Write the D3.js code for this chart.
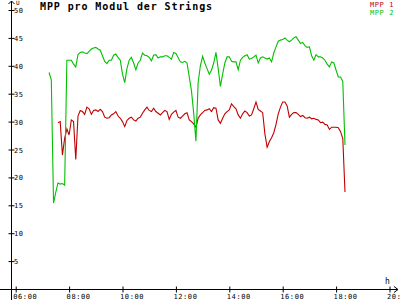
<!DOCTYPE html>
<html>
<head>
<meta charset="utf-8">
<script src="https://cdn.jsdelivr.net/npm/d3@7"></script>
<style>
  body { margin: 0; background: #fff; }
  svg { display: block; }
  text { font-family: "DejaVu Sans Mono", monospace; }
</style>
</head>
<body>
<svg id="chart" width="400" height="300"></svg>
<script>
// 5 minute readings, MPP voltage per module
var times = ["07:15","07:20","07:25","07:30","07:35","07:40","07:45","07:50","07:55","08:00",
  "08:05","08:10","08:15","08:20","08:25","08:30","08:35","08:40","08:45","08:50","08:55",
  "09:00","09:05","09:10","09:15","09:20","09:25","09:30","09:35","09:40","09:45","09:50","09:55",
  "10:00","10:05","10:10","10:15","10:20","10:25","10:30","10:35","10:40","10:45","10:50","10:55",
  "11:00","11:05","11:10","11:15","11:20","11:25","11:30","11:35","11:40","11:45","11:50","11:55",
  "12:00","12:05","12:10","12:15","12:20","12:25","12:30","12:35","12:40","12:45","12:50","12:55",
  "13:00","13:05","13:10","13:15","13:20","13:25","13:30","13:35","13:40","13:45","13:50","13:55",
  "14:00","14:05","14:10","14:15","14:20","14:25","14:30","14:35","14:40","14:45","14:50","14:55",
  "15:00","15:05","15:10","15:15","15:20","15:25","15:30","15:35","15:40","15:45","15:50","15:55",
  "16:00","16:05","16:10","16:15","16:20","16:25","16:30","16:35","16:40","16:45","16:50","16:55",
  "17:00","17:05","17:10","17:15","17:20","17:25","17:30","17:35","17:40","17:45","17:50","17:55",
  "18:00","18:05","18:10","18:15","18:20"]

var mpp1 = [null,null,null,null,29.8,30.0,24.0,27.0,28.7,27.6,
  30.3,30.0,23.2,31.0,32.0,31.8,31.3,32.6,32.3,31.3,32.0,
  32.1,31.8,32.2,31.8,30.8,30.6,30.7,31.2,31.4,31.8,31.0,30.6,
  30.0,29.1,30.2,30.6,30.8,30.3,30.1,30.6,30.8,31.5,32.1,32.6,
  32.0,31.8,32.4,31.8,31.5,31.2,31.6,32.0,31.8,30.4,31.3,31.7,
  32.0,30.8,30.6,31.0,31.4,31.6,30.3,30.0,29.6,29.0,30.6,31.2,
  31.6,32.0,32.1,32.3,31.8,32.5,32.4,30.3,29.7,30.6,31.4,31.8,
  32.1,33.2,32.7,32.3,31.2,30.6,31.4,31.9,31.6,31.0,31.2,32.3,
  33.5,32.2,31.9,31.6,27.8,25.4,26.4,27.1,28.0,29.5,31.4,32.6,
  33.5,33.5,32.8,30.8,31.3,31.6,31.6,31.3,30.9,31.1,30.7,30.6,
  30.8,30.5,30.6,30.4,30.3,29.8,29.9,29.5,29.4,28.6,29.0,29.0,
  29.0,28.9,28.2,27.0,17.4]

var mpp2 = [38.8,37.5,15.4,17.3,19.0,18.8,18.9,18.6,41.0,41.0,
  41.0,40.3,39.8,42.0,42.4,42.5,42.3,42.2,42.6,43.0,43.2,
  43.3,43.0,42.8,41.8,40.8,40.4,41.0,41.0,41.9,42.1,41.5,41.0,
  38.5,37.0,39.5,41.0,41.5,40.5,39.3,40.5,41.0,42.3,41.9,41.8,
  41.5,40.9,41.9,42.0,41.4,41.6,41.6,41.8,41.8,41.5,41.2,42.4,
  42.2,41.5,40.7,40.6,40.8,40.5,38.0,35.5,31.5,26.5,37.0,40.0,
  41.7,40.5,39.5,38.5,39.2,40.5,42.4,39.5,36.3,38.5,40.5,41.6,
  41.6,40.8,40.7,40.7,39.3,41.0,41.5,41.8,42.0,41.2,41.3,41.6,
  41.9,40.5,41.4,41.6,41.4,41.2,41.4,40.7,42.3,43.4,44.4,44.6,
  44.7,45.0,44.6,44.3,44.6,45.0,45.2,44.6,44.0,44.2,43.6,43.3,
  43.4,41.8,41.0,42.0,41.6,41.6,41.4,41.0,40.3,39.8,40.7,40.5,
  39.2,38.0,38.0,37.2,25.8]

var hourTicks = [6, 8, 10, 12, 14, 16, 18, 20]
var voltTicks = [5, 10, 15, 20, 25, 30, 35, 40, 45, 50]
var seriesNames = ["MPP 1", "MPP 2"]
var seriesColors = ["#c00000", "#00c000"]

function toHours(s){
    var p = s.split(":")
    return +p[0] + (+p[1]) / 60
}
function pad(n){ return (n < 10 ? "0" : "") + n }

var svg = d3.select("#chart")

var xScale = d3.scaleLinear().domain([6, 20]).range([15.7, 389.5])
var yScale = d3.scaleLinear().domain([0, 50]).range([289, 10])
var axisX = 11, axisY = 289

// axis lines with arrows
svg.append("line")
    .attr("x1", 0).attr("x2", 398).attr("y1", axisY + 0.5).attr("y2", axisY + 0.5)
    .attr("stroke", "#000").attr("stroke-width", 1)
svg.append("path")
    .attr("d", "M394,286.5 L398,289.5 L394,292.5")
    .attr("fill", "none").attr("stroke", "#000").attr("stroke-width", 1)
svg.append("line")
    .attr("x1", axisX + 0.5).attr("x2", axisX + 0.5).attr("y1", 1).attr("y2", 300)
    .attr("stroke", "#000").attr("stroke-width", 1)
svg.append("path")
    .attr("d", "M8.5,4 L11.5,1 L14.5,4")
    .attr("fill", "none").attr("stroke", "#000").attr("stroke-width", 1)

// x axis ticks
var gx = svg.append("g")
    .attr("transform", "translate(0," + (axisY + 0.5) + ")")
    .call(d3.axisBottom(xScale).tickValues(hourTicks).tickSize(3)
        .tickFormat(function(d){ return pad(d) + ":00" }))
gx.select(".domain").remove()
gx.selectAll(".tick line").attr("y1", -3).attr("y2", 3)
gx.selectAll(".tick text")
    .attr("x", -3).attr("y", 9).attr("dy", null)
    .attr("text-anchor", "start")
    .attr("font-family", "DejaVu Sans Mono").attr("font-size", 7)
    .attr("letter-spacing", 0.6).attr("fill", "#000")

// y axis ticks
var gy = svg.append("g")
    .attr("transform", "translate(" + (axisX + 0.5) + ",0)")
    .call(d3.axisLeft(yScale).tickValues(voltTicks).tickSize(3))
gy.select(".domain").remove()
gy.selectAll(".tick line").attr("x1", 3).attr("x2", -3)
gy.selectAll(".tick text")
    .attr("x", 2.5).attr("dy", "0.36em")
    .attr("text-anchor", "start")
    .attr("font-family", "DejaVu Sans Mono").attr("font-size", 7)
    .attr("letter-spacing", 0.6).attr("fill", "#000")

// unit labels
svg.append("text").attr("x", 16).attr("y", 5)
    .attr("font-size", 6).text("U")
svg.append("text").attr("x", 385).attr("y", 284)
    .attr("font-size", 8).text("h")

// title
svg.append("text").attr("x", 40).attr("y", 9.5)
    .attr("font-size", 10).attr("font-weight", "bold")
    .attr("letter-spacing", 0.9)
    .text("MPP pro Modul der Strings")

// series
var line = d3.line()
    .defined(function(d){ return d.v !== null })
    .x(function(d){ return xScale(d.t) })
    .y(function(d){ return yScale(d.v) })

var allSeries = [mpp1, mpp2]
allSeries.forEach(function(vals, i){
    var pts = times.map(function(t, j){ return { t: toHours(t), v: vals[j] } })
    svg.append("path")
        .datum(pts)
        .attr("d", line)
        .attr("fill", "none")
        .attr("stroke", seriesColors[i])
        .attr("stroke-width", 1.1)
})

// legend
seriesNames.forEach(function(n, i){
    svg.append("text")
        .attr("x", 394).attr("y", 7 + i * 8)
        .attr("text-anchor", "end")
        .attr("font-size", 7)
        .attr("letter-spacing", 0.6)
        .attr("fill", seriesColors[i])
        .text(n)
})
</script>
</body>
</html>
